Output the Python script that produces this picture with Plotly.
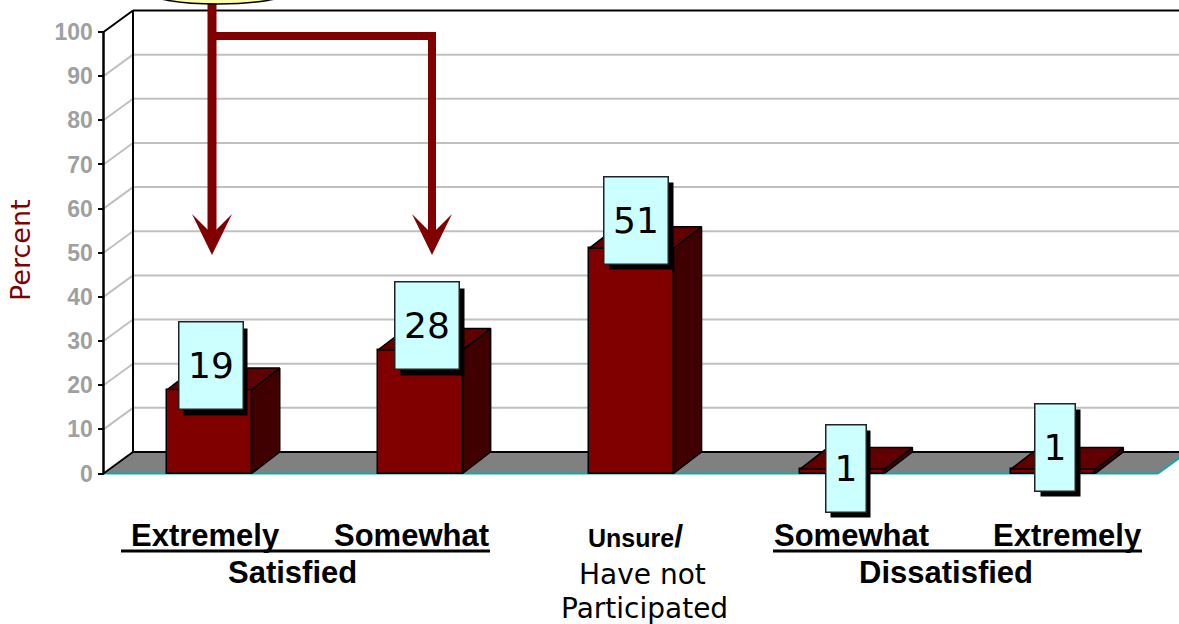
import plotly.graph_objects as go

# ---- data ----
categories = ["Extremely", "Somewhat", "Unsure/", "Somewhat", "Extremely"]
values = [19, 28, 51, 1, 1]
value_labels = ["19", "28", "51", "1", "1"]
y_ticks = [0, 10, 20, 30, 40, 50, 60, 70, 80, 90, 100]
group_labels = ["Satisfied", "Dissatisfied"]

# ---- layout geometry (pixels in the 1179x624 page) ----
W, H = 1179, 624
Y0, Y100 = 473.5, 32.0
X0, XSTEP = 209.5, 210.9
AX = 103.5
PY = (Y0 - Y100) / 100
DX, DY = 28 / XSTEP, 21.5 / PY
BAR_W = 84.5 / XSTEP
xr = [-X0 / XSTEP, (W - X0) / XSTEP]
yr = [(Y0 - H) / PY, Y0 / PY]
ax_x = (AX - X0) / XSTEP
back_x = (133 - X0) / XSTEP
right_front = (1158 - X0) / XSTEP
FONT = "Liberation Sans"
WIDE = "DejaVu Sans"
DARK = "#800000"

def px(x):
    return x / W

def py(y):
    return 1 - y / H

shapes = []
def line(x0, y0, x1, y1, color, width, layer="below"):
    shapes.append(dict(type="line", xref="x", yref="y", x0=x0, y0=y0, x1=x1, y1=y1,
                       line=dict(color=color, width=width), layer=layer))

# grid on the two walls
for t in y_ticks[1:-1]:
    line(ax_x, t, back_x, t + DY, "#c0c0c0", 2)
    line(back_x, t + DY, xr[1], t + DY, "#c0c0c0", 2)

# floor
fx = [ax_x, right_front, right_front + (back_x - ax_x), back_x]
fy = [0, 0, DY, DY]
shapes.append(dict(type="path", xref="x", yref="y", layer="below", fillcolor="#808080",
                   line=dict(width=0),
                   path="M" + " L".join(f"{a},{b}" for a, b in zip(fx, fy)) + " Z"))
line(back_x, DY, xr[1], DY, "black", 2)
line(ax_x, 0, right_front, 0, "#13a8a8", 2)
line(right_front, 0, right_front + (back_x - ax_x), DY, "#13a8a8", 2)

# wall frame
line(ax_x, 0, ax_x, 100, "black", 2.5)
line(ax_x, 0, back_x, DY, "black", 2)
line(ax_x, 100, back_x, 100 + DY, "black", 2)
line(back_x, DY, back_x, 100 + DY, "black", 2)
line(back_x, 100 + DY, xr[1], 100 + DY, "black", 2)

fig = go.Figure()

# bar front faces
fig.add_trace(go.Bar(x=list(range(len(values))), y=values, width=BAR_W,
                     marker=dict(color=DARK, line=dict(color="black", width=1.5)),
                     hoverinfo="skip"))

# bar side and top faces
for i, v in enumerate(values):
    l, r = i - BAR_W / 2, i + BAR_W / 2
    fig.add_trace(go.Scatter(x=[r, r + DX, r + DX, r, r], y=[0, DY, v + DY, v, 0],
                             mode="lines", fill="toself", fillcolor="#400000",
                             line=dict(color="black", width=1.5), hoverinfo="skip"))
    fig.add_trace(go.Scatter(x=[l, r, r + DX, l + DX, l], y=[v, v, v + DY, v + DY, v],
                             mode="lines", fill="toself", fillcolor="#600000",
                             line=dict(color="black", width=1.5), hoverinfo="skip"))

ann = []
def text(x, y, s, size, family=FONT, color="black", bold=False, angle=0):
    ann.append(dict(xref="paper", yref="paper", x=px(x), y=py(y), text=f"<b>{s}</b>" if bold else s,
                    showarrow=False, xanchor="center", yanchor="middle", textangle=angle,
                    font=dict(family=family, size=size, color=color)))

# callout boxes carrying the values
box_shift = [(1, 24), (7, 24), (5, 28), (3.5, 1), (2, 22)]
box_w = [63, 63, 63, 39, 39]
BOX_H = 86
for i, v in enumerate(values):
    sx, sy = box_shift[i]
    base = dict(xref="x", yref="y", x=i, y=v, showarrow=False, xanchor="center", yanchor="middle",
                width=box_w[i], height=BOX_H, borderpad=0, align="center", valign="middle")
    ann.append(dict(base, text=" ", bgcolor="black", xshift=sx + 5, yshift=sy - 6))
    ann.append(dict(base, text=value_labels[i], bgcolor="#ccffff", bordercolor="#222222", borderwidth=1.5,
                    xshift=sx, yshift=sy, font=dict(family=WIDE, size=36, color="black")))

# category text
text(205, 535, categories[0], 31, bold=True)
text(411, 535, categories[1], 31, bold=True)
text(851, 535, categories[3], 31, bold=True)
text(1067, 535, categories[4], 31, bold=True)
text(292, 572, group_labels[0], 31, bold=True)
text(946, 572, group_labels[1], 31, bold=True)
text(635, 536, '<span style="font-size:25px">Unsure</span>/', 32, bold=True)
text(642, 574, "Have not", 28, family=WIDE)
text(645, 608, "Participated", 28, family=WIDE)
text(20, 250, "Percent", 27, family=WIDE, color=DARK, angle=-90)

# underlines beneath the satisfaction groups
for a, b in [(121, 490), (773, 1142)]:
    shapes.append(dict(type="line", xref="paper", yref="paper", x0=px(a), x1=px(b), y0=py(551), y1=py(551),
                       line=dict(color="black", width=3)))

# bracket and arrows
shapes.append(dict(type="path", xref="paper", yref="paper", line=dict(color=DARK, width=9),
                   path=f"M{px(212)},{py(0)} L{px(212)},{py(235)}"))
shapes.append(dict(type="path", xref="paper", yref="paper", line=dict(color=DARK, width=8),
                   path=f"M{px(212)},{py(36)} L{px(432)},{py(36)} L{px(432)},{py(235)}"))
for c in (212, 432):
    shapes.append(dict(type="path", xref="paper", yref="paper", fillcolor=DARK, line=dict(width=0),
                       path=f"M{px(c-20)},{py(214)} L{px(c)},{py(234)} L{px(c+20)},{py(214)} L{px(c)},{py(255)} Z"))
shapes.append(dict(type="circle", xref="paper", yref="paper", x0=px(148), x1=px(288), y0=py(4), y1=py(-20),
                   fillcolor="#ffffa8", line=dict(color="black", width=1.5)))

fig.update_layout(
    width=W, height=H, autosize=False, showlegend=False, hovermode=False,
    margin=dict(l=0, r=0, t=0, b=0), paper_bgcolor="white", plot_bgcolor="white",
    bargap=0, shapes=shapes, annotations=ann,
    xaxis=dict(range=xr, visible=False, domain=[0, 1]),
    yaxis=dict(range=yr, anchor="free", position=px(AX), tickmode="array", tickvals=y_ticks,
               ticktext=[str(t) for t in y_ticks], ticks="outside", ticklen=6, tickwidth=2, tickcolor="black",
               showgrid=False, zeroline=False, showline=False, domain=[0, 1],
               tickfont=dict(family=FONT, size=23, color="#a0a0a0", weight="bold")),
)
fig.write_html("out.html", config=dict(displayModeBar=False),
               post_script="document.body.style.margin='0';document.body.style.overflow='hidden';")
